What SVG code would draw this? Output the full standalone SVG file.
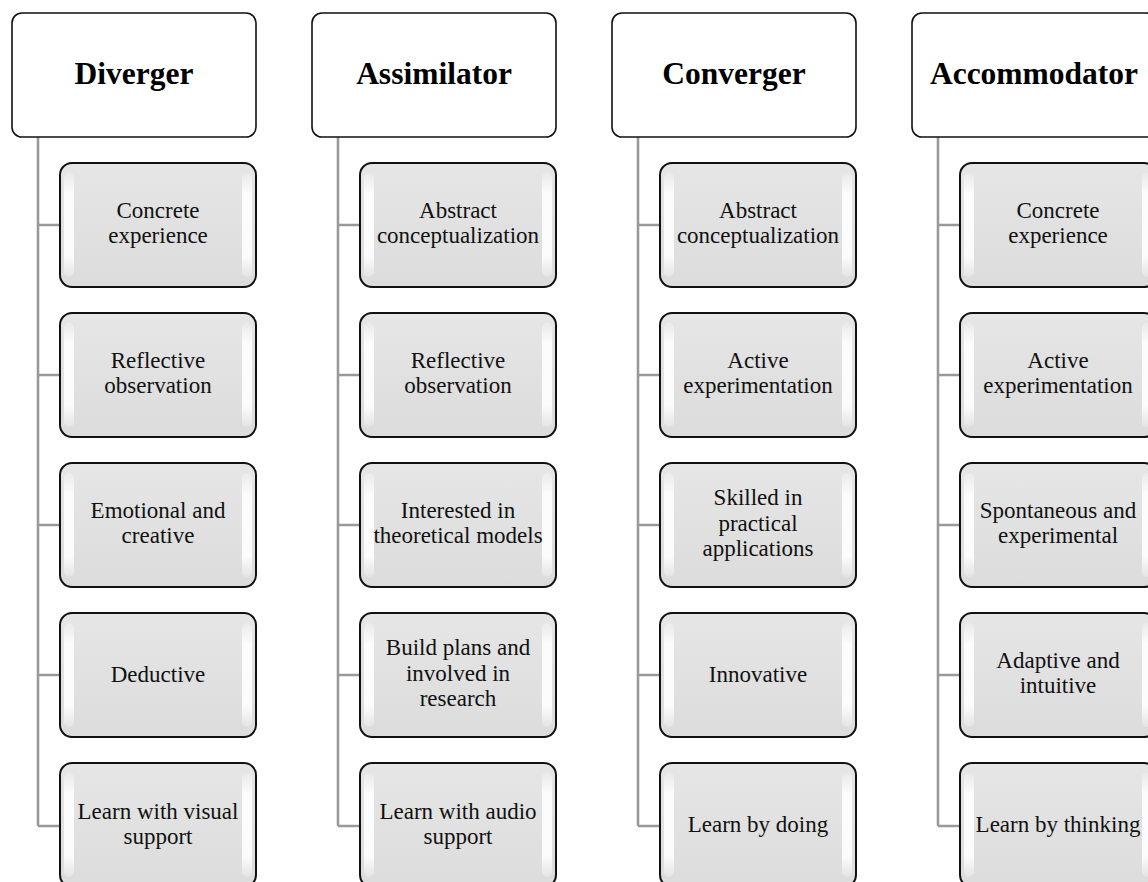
<svg xmlns="http://www.w3.org/2000/svg" width="1148" height="882" viewBox="0 0 1148 882">
<style>
.hdr{fill:#fff;stroke:#111;stroke-width:1.6}
.ht{font-family:"Liberation Serif","Times New Roman",serif;font-weight:bold;font-size:31.5px;fill:#000;text-anchor:middle}
.box{fill:url(#gbox);stroke:#111;stroke-width:2}
.hl{fill:url(#ghl)}
.bt{font-family:"Liberation Serif","Times New Roman",serif;font-size:23px;fill:#111;text-anchor:middle}
.con{stroke:#999;stroke-width:2.6;fill:none}
</style>
<defs>
<linearGradient id="gbox" x1="0" y1="0" x2="0" y2="1">
<stop offset="0" stop-color="#e6e6e6"/>
<stop offset="1" stop-color="#dcdcdc"/>
</linearGradient>
<linearGradient id="ghl" x1="0" y1="0" x2="0" y2="1">
<stop offset="0" stop-color="#fff" stop-opacity="0.2"/>
<stop offset="0.2" stop-color="#fff" stop-opacity="0.9"/>
<stop offset="0.8" stop-color="#fff" stop-opacity="0.9"/>
<stop offset="1" stop-color="#fff" stop-opacity="0.2"/>
</linearGradient>
<g id="cbox">
<rect class="box" x="0" y="0" width="196" height="124" rx="12"/>
<rect class="hl" x="4" y="10" width="10" height="104" rx="5"/>
<rect class="hl" x="182" y="10" width="10" height="104" rx="5"/>
</g>
</defs>
<rect width="1148" height="882" fill="#fff"/>
<g id="connectors">
<path class="con" d="M38 137V826M38 225H60M38 375H60M38 525H60M38 675H60M38 826H60"/>
<path class="con" d="M338 137V826M338 225H360M338 375H360M338 525H360M338 675H360M338 826H360"/>
<path class="con" d="M638 137V826M638 225H660M638 375H660M638 525H660M638 675H660M638 826H660"/>
<path class="con" d="M938 137V826M938 225H960M938 375H960M938 525H960M938 675H960M938 826H960"/>
</g>
<g id="diverger"><rect class="hdr" x="12" y="13" width="244" height="124" rx="10"/><text class="ht" x="134" y="84">Diverger</text></g>
<g id="assimilator"><rect class="hdr" x="312" y="13" width="244" height="124" rx="10"/><text class="ht" x="434" y="84">Assimilator</text></g>
<g id="converger"><rect class="hdr" x="612" y="13" width="244" height="124" rx="10"/><text class="ht" x="734" y="84">Converger</text></g>
<g id="accommodator"><rect class="hdr" x="912" y="13" width="244" height="124" rx="10"/><text class="ht" x="1034" y="84">Accommodator</text></g>

<g id="d1"><use href="#cbox" x="60" y="163"/><text class="bt" x="158" y="218">Concrete</text><text class="bt" x="158" y="243">experience</text></g>
<g id="d2"><use href="#cbox" x="60" y="313"/><text class="bt" x="158" y="368">Reflective</text><text class="bt" x="158" y="393">observation</text></g>
<g id="d3"><use href="#cbox" x="60" y="463"/><text class="bt" x="158" y="518">Emotional and</text><text class="bt" x="158" y="543">creative</text></g>
<g id="d4"><use href="#cbox" x="60" y="613"/><text class="bt" x="158" y="682">Deductive</text></g>
<g id="d5"><use href="#cbox" x="60" y="763"/><text class="bt" x="158" y="819">Learn with visual</text><text class="bt" x="158" y="844">support</text></g>

<g id="a1"><use href="#cbox" x="360" y="163"/><text class="bt" x="458" y="218">Abstract</text><text class="bt" x="458" y="243">conceptualization</text></g>
<g id="a2"><use href="#cbox" x="360" y="313"/><text class="bt" x="458" y="368">Reflective</text><text class="bt" x="458" y="393">observation</text></g>
<g id="a3"><use href="#cbox" x="360" y="463"/><text class="bt" x="458" y="518">Interested in</text><text class="bt" x="458" y="543">theoretical models</text></g>
<g id="a4"><use href="#cbox" x="360" y="613"/><text class="bt" x="458" y="655">Build plans and</text><text class="bt" x="458" y="681">involved in</text><text class="bt" x="458" y="706">research</text></g>
<g id="a5"><use href="#cbox" x="360" y="763"/><text class="bt" x="458" y="819">Learn with audio</text><text class="bt" x="458" y="844">support</text></g>

<g id="c1"><use href="#cbox" x="660" y="163"/><text class="bt" x="758" y="218">Abstract</text><text class="bt" x="758" y="243">conceptualization</text></g>
<g id="c2"><use href="#cbox" x="660" y="313"/><text class="bt" x="758" y="368">Active</text><text class="bt" x="758" y="393">experimentation</text></g>
<g id="c3"><use href="#cbox" x="660" y="463"/><text class="bt" x="758" y="505">Skilled in</text><text class="bt" x="758" y="531">practical</text><text class="bt" x="758" y="556">applications</text></g>
<g id="c4"><use href="#cbox" x="660" y="613"/><text class="bt" x="758" y="682">Innovative</text></g>
<g id="c5"><use href="#cbox" x="660" y="763"/><text class="bt" x="758" y="832">Learn by doing</text></g>

<g id="m1"><use href="#cbox" x="960" y="163"/><text class="bt" x="1058" y="218">Concrete</text><text class="bt" x="1058" y="243">experience</text></g>
<g id="m2"><use href="#cbox" x="960" y="313"/><text class="bt" x="1058" y="368">Active</text><text class="bt" x="1058" y="393">experimentation</text></g>
<g id="m3"><use href="#cbox" x="960" y="463"/><text class="bt" x="1058" y="518">Spontaneous and</text><text class="bt" x="1058" y="543">experimental</text></g>
<g id="m4"><use href="#cbox" x="960" y="613"/><text class="bt" x="1058" y="668">Adaptive and</text><text class="bt" x="1058" y="693">intuitive</text></g>
<g id="m5"><use href="#cbox" x="960" y="763"/><text class="bt" x="1058" y="832">Learn by thinking</text></g>
</svg>
